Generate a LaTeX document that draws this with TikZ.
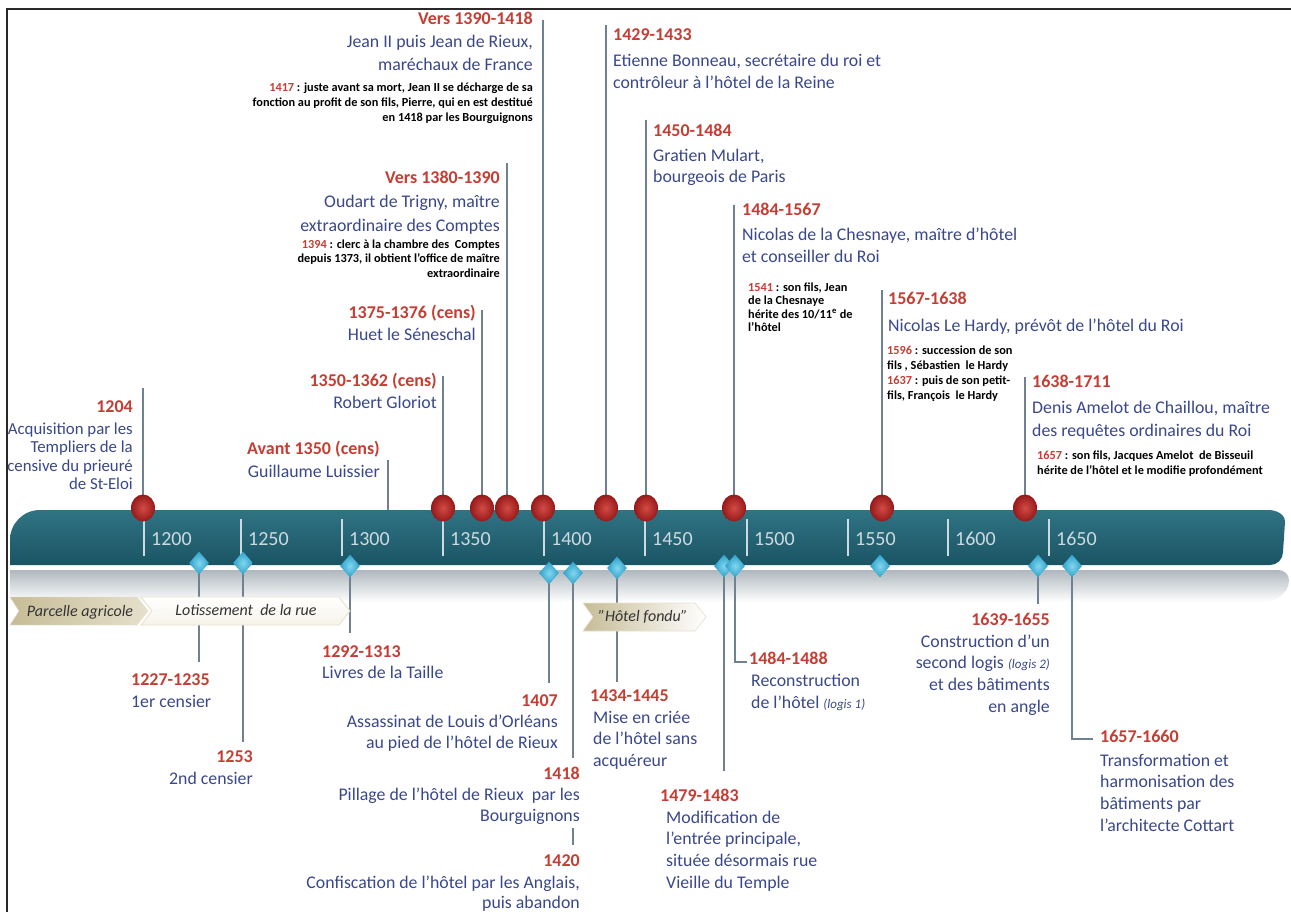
\documentclass[tikz,border=0pt]{standalone}
\usepackage{fontspec}
\setmainfont{Carlito}
\usetikzlibrary{shapes.geometric}
\definecolor{datec}{RGB}{196,62,52}
\definecolor{bluec}{RGB}{58,72,138}
\definecolor{linec}{RGB}{112,130,146}
\definecolor{bartop}{RGB}{48,116,132}
\definecolor{barmid}{RGB}{34,99,115}
\definecolor{barbot}{RGB}{26,84,100}
\definecolor{tickc}{RGB}{205,218,224}
\definecolor{tanc}{RGB}{198,188,150}
\definecolor{tanl}{RGB}{230,224,204}
\definecolor{dotin}{RGB}{210,75,68}
\definecolor{dotout}{RGB}{150,26,26}
\definecolor{diain}{RGB}{130,215,238}
\definecolor{diaout}{RGB}{45,160,202}
\definecolor{reflc}{RGB}{175,184,190}
\definecolor{framec}{RGB}{40,40,40}
\pgfdeclarelayer{bg}
\pgfsetlayers{bg,main}
\newcommand\txtlines[7]{\foreach \linetext [count=\i] in {#7} {\node[#2, anchor=#3] (#1-\i) at ({#4},{#5+(\i-1)*#6}) {\linetext};}}
\tikzset{
  datest/.style={text=datec, font=\bfseries\fontsize{18}{20}\selectfont, inner sep=0pt},
  bluest/.style={text=bluec, font=\fontsize{17.8}{20}\selectfont, inner sep=0pt},
  bluesm/.style={text=bluec, font=\fontsize{16.8}{19}\selectfont, inner sep=0pt},
  smallst/.style={text=black, font=\bfseries\fontsize{12.3}{14}\selectfont, inner sep=0pt},
  yearst/.style={text=tickc, font=\fontsize{20}{22}\selectfont, inner sep=0pt, anchor=base west},
  conn/.style={draw=linec, line width=1.5pt},
  tickst/.style={draw=tickc, line width=1.2pt},
  dotst/.style={ellipse, minimum width=24pt, minimum height=27pt, inner sep=0pt, shading=radial, inner color=dotin, outer color=dotout},
  diast/.style={diamond, minimum width=20pt, minimum height=23pt, inner sep=0pt, shading=radial, inner color=diain, outer color=diaout},
  ribtext/.style={font=\itshape\fontsize{16}{18}\selectfont, text=black!80, inner sep=0pt},
  framest/.style={draw=framec, line width=2pt}
}
\newcommand\lgs[1]{{\itshape\fontsize{13}{15}\selectfont #1}}
\begin{document}
\begin{tikzpicture}[x=1pt,y=-1pt]
\begin{pgfonlayer}{bg}
\fill[white] (0,0) rectangle (1291,912);
\end{pgfonlayer}

% dots
\foreach \nm/\xx in {d1204/143, d1350/443, d1375/482, d1380/507, d1390/543, d1429/606, d1450/646, d1484/734, d1567/882, d1638/1025}
  \node[dotst] (\nm) at (\xx,508) {};
% diamonds
\foreach \nm/\xx/\yy in {m1227/199/563, m1253/243/563, m1292/350/566, m1407/549/573, m1418/573/573, m1434/617/568, m1479/724/566, m1484/735/566, m1550/880/566, m1639/1038/566, m1657/1072/566}
  \node[diast] (\nm) at (\xx,\yy) {};

% coordinates for free connector ends
\foreach \nm/\xx/\yy in {c1204/143/388, cAv/388/460, cAvb/388/510, c1350/443/376, c1375/482/310, c1380/507/163, c1390/543/20, c1429/606/25, c1450/646/120, c1484/734/205, c1567/882/290, c1638/1025/377,
  b1227/199/662, b1253/243/742, b1292/350/633, b1407/549/683, b1418/573/758, s1418a/573/828, s1418b/573/845, b1434/617/682, b1479/724/771, b1484/735/662, b1484r/747/662, b1639/1038/604, b1657/1072/739, b1657r/1093/739}
  \coordinate (\nm) at (\xx,\yy);

\begin{pgfonlayer}{bg}
% reflection
\shade[top color=reflc, bottom color=white] (10,570) -- (1278,570) to[out=0,in=90] (1289,580) to[out=-90,in=0] (1262,602) -- (10,602) -- cycle;
% bar
\shade[top color=bartop, middle color=barmid, bottom color=barbot] (10,565) -- (10,540) to[out=90,in=180] (40,510) -- (1268,510) to[out=0,in=90] (1285,522) -- (1283,552) to[out=-90,in=0] (1270,565) -- cycle;
% ticks and years
\foreach \xx/\yr in {144/1200, 241/1250, 342/1300, 443/1350, 544/1400, 645/1450, 747/1500, 848/1550, 948/1600, 1049/1650}{
  \coordinate (tk\yr a) at (\xx,519);
  \coordinate (tk\yr b) at (\xx,556);
  \draw[tickst] (tk\yr a) -- (tk\yr b);
  \node[yearst] (yr\yr) at (\xx+7,545) {\yr};
}
% connectors above
\draw[conn] (c1204) -- (d1204.center);
\draw[conn] (cAv) -- (cAvb);
\draw[conn] (c1350) -- (d1350.center);
\draw[conn] (c1375) -- (d1375.center);
\draw[conn] (c1380) -- (d1380.center);
\draw[conn] (c1390) -- (d1390.center);
\draw[conn] (c1429) -- (d1429.center);
\draw[conn] (c1450) -- (d1450.center);
\draw[conn] (c1484) -- (d1484.center);
\draw[conn] (c1567) -- (d1567.center);
\draw[conn] (c1638) -- (d1638.center);
% connectors below
\draw[conn] (m1227.center) -- (b1227);
\draw[conn] (m1253.center) -- (b1253);
\draw[conn] (m1292.center) -- (b1292);
\draw[conn] (m1407.center) -- (b1407);
\draw[conn] (m1418.center) -- (b1418);
\draw[conn] (s1418a) -- (s1418b);
\draw[conn] (m1434.center) -- (b1434);
\draw[conn] (m1479.center) -- (b1479);
\draw[conn] (m1484.center) -- (b1484) -- (b1484r);
\draw[conn] (m1639.center) -- (b1639);
\draw[conn] (m1657.center) -- (b1657) -- (b1657r);
\end{pgfonlayer}

% ribbons
\shade[left color=tanc, right color=tanl, draw=tanl] (10,597) -- (137,597) -- (148,611) -- (137,625) -- (10,625) -- (19,611) -- cycle;
\shade[top color=white, bottom color={rgb,255:red,246;green,243;blue,234}, draw=tanl, line width=0.8pt] (141,597) -- (339,597) -- (350,611) -- (339,625) -- (141,625) -- (152,611) -- cycle;
\shade[left color=tanc, right color=white, draw=tanl, line width=0.6pt] (583,603) -- (695,603) -- (706,617) -- (695,631) -- (583,631) -- (593,617) -- cycle;
\node[ribtext] (rib1) at (80,612) {Parcelle agricole};
\node[ribtext] (rib2) at (246,610) {Lotissement\ \ de la rue};
\node[ribtext] (rib3) at (643,617) {"Hôtel fondu"};

% ---- top events
\node[datest, anchor=base east] (e1204) at (133,412) {1204};
\txtlines{t1204}{bluesm}{base east}{133}{434}{18.5}{Acquisition par les,Templiers de la,censive du prieuré,de St-Eloi}

\node[datest, anchor=base east] (eAv) at (380,454) {Avant\ 1350 (cens)};
\txtlines{tAv}{bluest}{base east}{380}{477}{20}{Guillaume Luissier}

\node[datest, anchor=base east] (e1350) at (437,386) {1350-1362 (cens)};
\txtlines{t1350}{bluest}{base east}{437}{408}{20}{Robert Gloriot}

\node[datest, anchor=base east] (e1375) at (476,319) {1375-1376 (cens)};
\txtlines{t1375}{bluest}{base east}{476}{340}{20}{Huet le Séneschal}

\node[datest, anchor=base east] (e1380) at (500,184) {Vers 1380-1390};
\txtlines{t1380}{bluest}{base east}{500}{208}{24}{{Oudart de Trigny, maître},extraordinaire des Comptes}
\txtlines{s1380}{smallst}{base east}{500}{249}{14}{\textcolor{datec}{1394} : clerc à la chambre des\ \ Comptes,{depuis 1373, il obtient l’office de maître},extraordinaire}

\node[datest, anchor=base east] (e1390) at (533,25) {Vers 1390-1418};
\txtlines{t1390}{bluest}{base east}{533}{48}{23}{{Jean II puis Jean de Rieux,},maréchaux de France}
\txtlines{s1390}{smallst}{base east}{533}{92}{15}{{\textcolor{datec}{1417} : juste avant sa mort, Jean II se décharge de sa},{fonction au profit de son fils, Pierre, qui en est destitué},en 1418 par les Bourguignons}

\node[datest, anchor=base west] (e1429) at (613,41) {1429-1433};
\txtlines{t1429}{bluest}{base west}{613}{67}{22}{{Etienne Bonneau, secrétaire du roi et},contrôleur à l’hôtel de la Reine}

\node[datest, anchor=base west] (e1450) at (653,137) {1450-1484};
\txtlines{t1450}{bluest}{base west}{653}{162}{21}{{Gratien Mulart,},bourgeois de Paris}

\node[datest, anchor=base west] (e1484) at (742,216) {1484-1567};
\txtlines{t1484}{bluest}{base west}{742}{241}{22}{{Nicolas de la Chesnaye, maître d’hôtel},et conseiller du Roi}
\txtlines{s1484}{smallst}{base west}{748}{291}{13.5}{{\textcolor{datec}{1541} : son fils, Jean},de la Chesnaye,hérite\ des 10/11\textsuperscript{e} de,l’hôtel}

\node[datest, anchor=base west] (e1567) at (888,305) {1567-1638};
\txtlines{t1567}{bluest}{base west}{888}{331}{22}{{Nicolas Le Hardy, prévôt de l’hôtel du Roi}}
\txtlines{s1567}{smallst}{base west}{887}{354}{15}{\textcolor{datec}{1596} : succession de son,{fils , Sébastien\ \ le Hardy},\textcolor{datec}{1637} : puis de son petit-,{fils, François\ \ le Hardy}}

\node[datest, anchor=base west] (e1638) at (1032,387) {1638-1711};
\txtlines{t1638}{bluest}{base west}{1032}{413}{23}{{Denis Amelot de Chaillou, maître},des requêtes ordinaires du Roi}
\txtlines{s1638}{smallst}{base west}{1037}{459}{15}{{\textcolor{datec}{1657} : son fils, Jacques Amelot\ \ de Bisseuil},hérite de l’hôtel et le modifie profondément}

% ---- bottom events
\node[datest, anchor=base west] (e1227) at (131,685) {1227-1235};
\txtlines{t1227}{bluest}{base west}{131}{707}{21}{1er censier}

\node[datest, anchor=base east] (e1253) at (253,762) {1253};
\txtlines{t1253}{bluest}{base east}{253}{784}{21}{2nd censier}

\node[datest, anchor=base west] (e1292) at (322,657) {1292-1313};
\txtlines{t1292}{bluest}{base west}{322}{678}{21}{Livres de la Taille}

\node[datest, anchor=base east] (e1407) at (558,706) {1407};
\txtlines{t1407}{bluest}{base east}{558}{727}{21}{Assassinat de Louis d’Orléans,au pied de l’hôtel de Rieux}

\node[datest, anchor=base east] (e1418) at (580,779) {1418};
\txtlines{t1418}{bluest}{base east}{580}{800}{21}{Pillage de l’hôtel de Rieux\ \ par les,Bourguignons}

\node[datest, anchor=base east] (e1420) at (580,866) {1420};
\txtlines{t1420}{bluest}{base east}{580}{888}{20}{{Confiscation de l’hôtel par les Anglais,},puis abandon}

\node[datest, anchor=base west] (e1434) at (590,701) {1434-1445};
\txtlines{t1434}{bluest}{base west}{593}{723}{21.5}{Mise en criée,de l’hôtel sans,acquéreur}

\node[datest, anchor=base west] (e1479) at (660,801) {1479-1483};
\txtlines{t1479}{bluest}{base west}{666}{823}{21.7}{Modification de,{l’entrée principale,},située désormais rue,Vieille du Temple}

\node[datest, anchor=base west] (e1488) at (749,664) {1484-1488};
\txtlines{t1488}{bluest}{base west}{751}{686}{22}{Reconstruction,de l’hôtel \lgs{(logis 1)}}

\node[datest, anchor=base east] (e1639) at (1050,625) {1639-1655};
\txtlines{t1639}{bluest}{base east}{1050}{647}{21.7}{Construction d’un,second logis \lgs{(logis 2)},et des bâtiments,en angle}

\node[datest, anchor=base west] (e1657) at (1100,742) {1657-1660};
\txtlines{t1657}{bluest}{base west}{1100}{766}{21.7}{Transformation et,harmonisation des,bâtiments par,l’architecte Cottart}

% frame (drawn last, on top)
\coordinate (fr1) at (7,912);
\coordinate (fr2) at (7,9);
\coordinate (fr3) at (1291,9);
\draw[framest, line cap=rect] (fr1) -- (fr2) -- (fr3);
\pgfresetboundingbox
\useasboundingbox (0,0) rectangle (1291,912);
\end{tikzpicture}
\end{document}
